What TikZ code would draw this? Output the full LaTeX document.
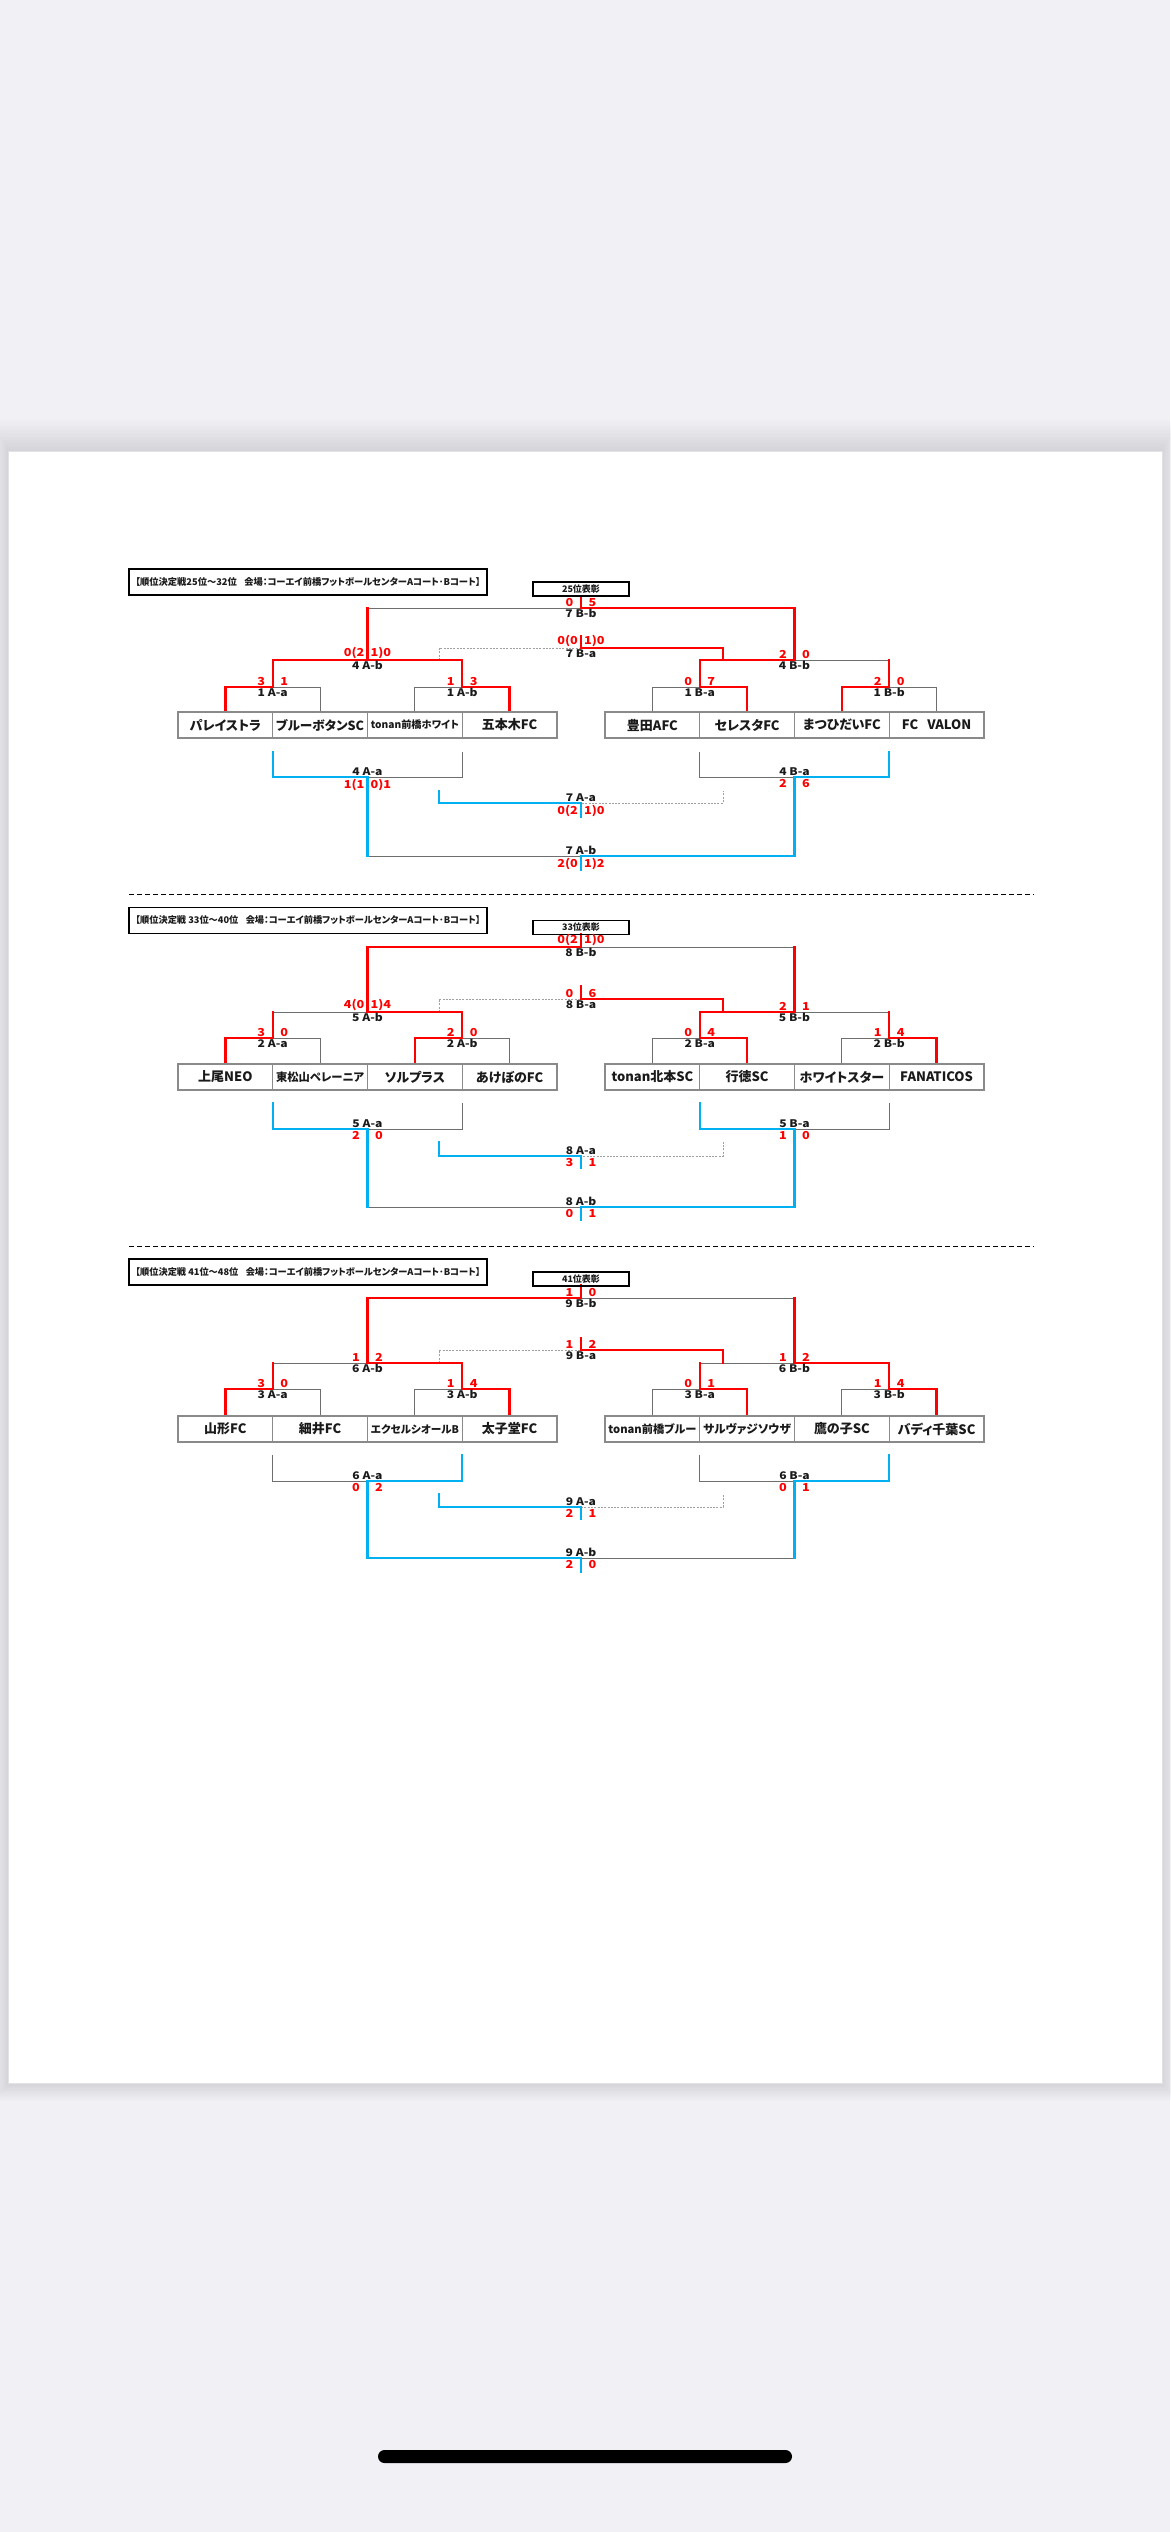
\documentclass[tikz,border=0pt]{standalone}
\usepackage{fontspec}
\usepackage{graphicx}
\setmainfont{Noto Sans CJK JP}[RawFeature=+palt]
\definecolor{wred}{HTML}{FF0000}
\definecolor{wblue}{HTML}{00B0F0}
\definecolor{lgray}{HTML}{6E6E6E}
\definecolor{boxgray}{HTML}{8A8A8A}
\definecolor{dgray}{HTML}{A0A0A0}
\definecolor{bggray}{HTML}{F0F0F5}
\definecolor{txtblack}{HTML}{1A1A1A}
\newcommand\bkTeam{\fontsize{13}{15}\selectfont\bfseries}
\newcommand\bkMatch{\fontsize{10.5}{12}\selectfont\bfseries}
\newcommand\bkScore{\fontsize{11}{12}\selectfont\bfseries}
\newcommand\bkTitle{\fontsize{9}{11}\selectfont\bfseries}
\newcommand\bkAward{\fontsize{9}{10}\selectfont\bfseries}
\newcommand\hwide[1]{\scalebox{1.15}[1]{#1}}
\newsavebox\fitbox
\newcommand\fitname[1]{\sbox\fitbox{#1}\ifdim\wd\fitbox>88pt\resizebox{88pt}{!}{\usebox\fitbox}\else\usebox\fitbox\fi}
% upper match: name, x, y(line), left, right, label, offset
\newcommand\upm[7]{%
  \node[sc, anchor=south east] (#1l) at (#2-#7,#3-1) {\hwide{#4}};
  \node[sc, anchor=south west] (#1r) at (#2+#7,#3-1) {\hwide{#5}};
  \node[ml, anchor=north] (#1) at (#2,#3+0.5) {\hwide{#6}};}
\newcommand\lom[7]{%
  \node[sc, anchor=north east] (#1l) at (#2-#7,#3+1.5) {\hwide{#4}};
  \node[sc, anchor=north west] (#1r) at (#2+#7,#3+1.5) {\hwide{#5}};
  \node[ml, anchor=south] (#1) at (#2,#3-0.5) {\hwide{#6}};}
% upper skeleton: yB yR yS yT yF
\newcommand\upskel[5]{%
  \draw[gl] (225.4,#1) |- (320.1,#2) -- (320.1,#1);
  \draw[gl] (414.9,#1) |- (509.6,#2) -- (509.6,#1);
  \draw[gl] (652.4,#1) |- (747.1,#2) -- (747.1,#1);
  \draw[gl] (841.9,#1) |- (936.6,#2) -- (936.6,#1);
  \draw[gl] (272.75,#2) |- (462.25,#3) -- (462.25,#2);
  \draw[gl] (699.75,#2) |- (889.25,#3) -- (889.25,#2);
  \draw[gl] (367.5,#3) |- (794.5,#5) -- (794.5,#3);
  \draw[dl] (439,#3) |- (723,#4) -- (723,#3);}
% lower skeleton: yL1s yL1 yL2s yL2 yL3
\newcommand\loskel[5]{%
  \draw[gl] (272.75,#1) |- (462.25,#2) -- (462.25,#1);
  \draw[gl] (699.75,#1) |- (889.25,#2) -- (889.25,#1);
  \draw[gl] (367.5,#2) |- (794.5,#5) -- (794.5,#2);
  \draw[dl] (439,#3) |- (723,#4) -- (723,#3);}
\newcommand\team[4]{\node[team] (#1) at (#2,#3) {\fitname{#4}};}
\begin{document}
\begin{tikzpicture}[x=1pt,y=-1pt,
  gl/.style={draw=lgray, line width=1pt},
  rl/.style={draw=wred, line width=2.3pt, line cap=rect},
  bl/.style={draw=wblue, line width=2.3pt, line cap=rect},
  dl/.style={draw=dgray, line width=0.9pt, dash pattern=on 2pt off 1.3pt},
  team/.style={draw=boxgray, line width=1.2pt, minimum width=94.75pt, minimum height=26pt, inner sep=0pt, font=\bkTeam, text=txtblack},
  sc/.style={text=wred, font=\bkScore, inner sep=0.5pt},
  ml/.style={text=txtblack, font=\bkMatch, inner sep=0.5pt},
  titlebox/.style={draw=black, line width=1.6pt, minimum width=358pt, minimum height=26pt, inner sep=0pt, font=\bkTitle, text=txtblack},
  awardbox/.style={draw=black, line width=1.5pt, minimum width=96pt, minimum height=14pt, inner sep=0pt, font=\bkAward, text=txtblack},
  sep/.style={draw=black, line width=1.3pt, dash pattern=on 5pt off 3pt}]
\useasboundingbox (0,0) rectangle (1170,2532);
% background and page
\fill[bggray] (0,0) rectangle (1170,2532);
\foreach \i in {1,...,14} \fill[black, opacity=0.008] (8-\i*1.1, 451-\i*2.2) rectangle (1162+\i*1.1, 2083+\i*1.3);
\fill[white, draw={rgb,255:red,226;green,226;blue,230}, line width=1pt] (8,451) rectangle (1162,2083);
% home indicator
\fill[black, rounded corners=6.5pt] (378,2450) rectangle (792,2463);
% separators
\coordinate (s1a) at (129,894.5); \coordinate (s1b) at (1034,894.5);
\coordinate (s2a) at (129,1246.5); \coordinate (s2b) at (1034,1246.5);
\draw[sep] (s1a) -- (s1b);
\draw[sep] (s2a) -- (s2b);

% ================= BRACKET 1 =================
\node[titlebox] (b1title) at (308,582) {\resizebox{345pt}{!}{【順位決定戦25位～32位\hspace{0.8em}会場：コーエイ前橋フットボールセンターAコート･Bコート】}};
\upskel{712}{687}{660}{648}{608}
\loskel{752}{777}{791}{803}{856}
% red winners
\draw[rl] (225.4,712) |- (272.75,687);
\draw[rl] (509.6,712) |- (462.25,687);
\draw[rl] (272.75,687) |- (462.25,660) -- (462.25,687);
\draw[rl] (367.5,660) -- (367.5,608);
\draw[rl] (747.1,712) |- (699.75,687);
\draw[rl] (841.9,712) |- (889.25,687);
\draw[rl] (699.75,687) |- (794.5,660);
\draw[rl] (889.25,687) -- (889.25,660);
\draw[rl] (794.5,660) |- (581,608);
\draw[rl] (581,648) -- (723,648) -- (723,660);
\draw[rl] (581,596) -- (581,608);
\draw[rl] (581,636) -- (581,648);
% blue
\draw[bl] (272.75,752) |- (367.5,777);
\draw[bl] (889.25,752) |- (794.5,777);
\draw[bl] (367.5,777) -- (367.5,856);
\draw[bl] (794.5,777) |- (581,856);
\draw[bl] (439,791) |- (581,803);
\draw[bl] (581,803) -- (581,817);
\draw[bl] (581,856) -- (581,870);
\node[awardbox] (b1award) at (581,589) {25位表彰};
\team{b1t1}{225.4}{725}{パレイストラ}
\team{b1t2}{320.1}{725}{ブルーボタンSC}
\team{b1t3}{414.9}{725}{tonan前橋ホワイト}
\team{b1t4}{509.6}{725}{五本木FC}
\team{b1t5}{652.4}{725}{豊田AFC}
\team{b1t6}{747.1}{725}{セレスタFC}
\team{b1t7}{841.9}{725}{まつひだいFC}
\team{b1t8}{936.6}{725}{FC\hspace{0.7em}VALON}
\upm{b1m1}{272.75}{687}{3}{1}{1 A-a}{7}
\upm{b1m2}{462.25}{687}{1}{3}{1 A-b}{7}
\upm{b1m3}{367.5}{660}{0(2}{1)0}{4 A-b}{2.5}
\upm{b1m4}{699.75}{687}{0}{7}{1 B-a}{7}
\upm{b1m5}{889.25}{687}{2}{0}{1 B-b}{7}
\upm{b1m6}{794.5}{660}{2}{0}{4 B-b}{7}
\upm{b1m7}{581}{608}{0}{5}{7 B-b}{7}
\upm{b1m8}{581}{648}{0(0}{1)0}{7 B-a}{2.5}
\lom{b1m9}{367.5}{777}{1(1}{0)1}{4 A-a}{2.5}
\lom{b1m10}{794.5}{777}{2}{6}{4 B-a}{7}
\lom{b1m11}{581}{803}{0(2}{1)0}{7 A-a}{2.5}
\lom{b1m12}{581}{856}{2(0}{1)2}{7 A-b}{2.5}

% ================= BRACKET 2 =================
\node[titlebox] (b2title) at (308,920.5) {\resizebox{345pt}{!}{【順位決定戦 33位～40位\hspace{0.8em}会場：コーエイ前橋フットボールセンターAコート･Bコート】}};
\upskel{1064}{1038}{1012}{999}{947}
\loskel{1103}{1129}{1142}{1156}{1207}
\draw[rl] (225.4,1064) |- (272.75,1038);
\draw[rl] (414.9,1064) |- (462.25,1038);
\draw[rl] (272.75,1038) -- (272.75,1012);
\draw[rl] (462.25,1038) |- (367.5,1012);
\draw[rl] (367.5,1012) -- (367.5,947) -- (581,947);
\draw[rl] (747.1,1064) |- (699.75,1038);
\draw[rl] (936.6,1064) |- (889.25,1038);
\draw[rl] (699.75,1038) |- (794.5,1012);
\draw[rl] (889.25,1038) -- (889.25,1012);
\draw[rl] (794.5,1012) -- (794.5,947);
\draw[rl] (581,999) -- (723,999) -- (723,1012);
\draw[rl] (581,934) -- (581,947);
\draw[rl] (581,986) -- (581,999);
\draw[bl] (272.75,1103) |- (367.5,1129);
\draw[bl] (699.75,1103) |- (794.5,1129);
\draw[bl] (367.5,1129) -- (367.5,1207);
\draw[bl] (794.5,1129) |- (581,1207);
\draw[bl] (439,1142) |- (581,1156);
\draw[bl] (581,1156) -- (581,1168);
\draw[bl] (581,1207) -- (581,1220);
\node[awardbox] (b2award) at (581,927.5) {33位表彰};
\team{b2t1}{225.4}{1077}{上尾NEO}
\team{b2t2}{320.1}{1077}{東松山ペレーニア}
\team{b2t3}{414.9}{1077}{ソルプラス}
\team{b2t4}{509.6}{1077}{あけぼのFC}
\team{b2t5}{652.4}{1077}{tonan北本SC}
\team{b2t6}{747.1}{1077}{行徳SC}
\team{b2t7}{841.9}{1077}{ホワイトスター}
\team{b2t8}{936.6}{1077}{FANATICOS}
\upm{b2m1}{272.75}{1038}{3}{0}{2 A-a}{7}
\upm{b2m2}{462.25}{1038}{2}{0}{2 A-b}{7}
\upm{b2m3}{367.5}{1012}{4(0}{1)4}{5 A-b}{2.5}
\upm{b2m4}{699.75}{1038}{0}{4}{2 B-a}{7}
\upm{b2m5}{889.25}{1038}{1}{4}{2 B-b}{7}
\upm{b2m6}{794.5}{1012}{2}{1}{5 B-b}{7}
\upm{b2m7}{581}{947}{0(2}{1)0}{8 B-b}{2.5}
\upm{b2m8}{581}{999}{0}{6}{8 B-a}{7}
\lom{b2m9}{367.5}{1129}{2}{0}{5 A-a}{7}
\lom{b2m10}{794.5}{1129}{1}{0}{5 B-a}{7}
\lom{b2m11}{581}{1156}{3}{1}{8 A-a}{7}
\lom{b2m12}{581}{1207}{0}{1}{8 A-b}{7}

% ================= BRACKET 3 =================
\node[titlebox] (b3title) at (308,1272) {\resizebox{345pt}{!}{【順位決定戦 41位～48位\hspace{0.8em}会場：コーエイ前橋フットボールセンターAコート･Bコート】}};
\upskel{1416}{1389}{1363}{1350}{1298}
\loskel{1455}{1481}{1494}{1507}{1558}
\draw[rl] (225.4,1416) |- (272.75,1389);
\draw[rl] (509.6,1416) |- (462.25,1389);
\draw[rl] (272.75,1389) -- (272.75,1363);
\draw[rl] (462.25,1389) |- (367.5,1363);
\draw[rl] (367.5,1363) -- (367.5,1298) -- (581,1298);
\draw[rl] (747.1,1416) |- (699.75,1389);
\draw[rl] (936.6,1416) |- (889.25,1389);
\draw[rl] (699.75,1389) -- (699.75,1363);
\draw[rl] (889.25,1389) |- (794.5,1363);
\draw[rl] (794.5,1363) -- (794.5,1298);
\draw[rl] (581,1350) -- (723,1350) -- (723,1363);
\draw[rl] (581,1285) -- (581,1298);
\draw[rl] (581,1338) -- (581,1350);
\draw[bl] (462.25,1455) |- (367.5,1481);
\draw[bl] (889.25,1455) |- (794.5,1481);
\draw[bl] (367.5,1481) |- (581,1558);
\draw[bl] (794.5,1481) -- (794.5,1558);
\draw[bl] (439,1494) |- (581,1507);
\draw[bl] (581,1507) -- (581,1519);
\draw[bl] (581,1558) -- (581,1572);
\node[awardbox] (b3award) at (581,1279) {41位表彰};
\team{b3t1}{225.4}{1429}{山形FC}
\team{b3t2}{320.1}{1429}{細井FC}
\team{b3t3}{414.9}{1429}{エクセルシオールB}
\team{b3t4}{509.6}{1429}{太子堂FC}
\team{b3t5}{652.4}{1429}{tonan前橋ブルー}
\team{b3t6}{747.1}{1429}{サルヴァジソウザ}
\team{b3t7}{841.9}{1429}{鷹の子SC}
\team{b3t8}{936.6}{1429}{バディ千葉SC}
\upm{b3m1}{272.75}{1389}{3}{0}{3 A-a}{7}
\upm{b3m2}{462.25}{1389}{1}{4}{3 A-b}{7}
\upm{b3m3}{367.5}{1363}{1}{2}{6 A-b}{7}
\upm{b3m4}{699.75}{1389}{0}{1}{3 B-a}{7}
\upm{b3m5}{889.25}{1389}{1}{4}{3 B-b}{7}
\upm{b3m6}{794.5}{1363}{1}{2}{6 B-b}{7}
\upm{b3m7}{581}{1298}{1}{0}{9 B-b}{7}
\upm{b3m8}{581}{1350}{1}{2}{9 B-a}{7}
\lom{b3m9}{367.5}{1481}{0}{2}{6 A-a}{7}
\lom{b3m10}{794.5}{1481}{0}{1}{6 B-a}{7}
\lom{b3m11}{581}{1507}{2}{1}{9 A-a}{7}
\lom{b3m12}{581}{1558}{2}{0}{9 A-b}{7}
\end{tikzpicture}
\end{document}
